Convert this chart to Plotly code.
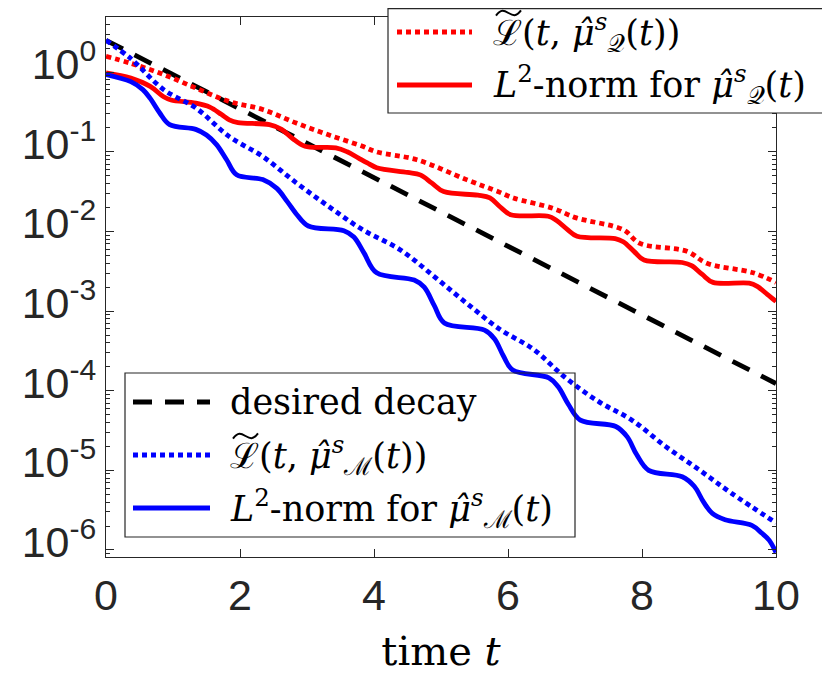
import plotly.graph_objects as go

# values
t_decay = [0, 10]
desired_decay = [2.51, 1.23e-4]

t_lq = [0, 0.37, 0.86, 1.34, 1.84, 2.34, 2.84, 3.33, 3.83, 4.03, 4.64, 5.38, 5.88, 6.08,
        6.67, 7.02, 7.72, 7.97, 8.67, 8.97, 9.66, 10]
ltilde_q = [1.58, 1.29, 0.933, 0.631, 0.427, 0.339, 0.229, 0.162, 0.117, 0.100, 0.0794,
            0.0447, 0.0309, 0.0263, 0.0195, 0.0148, 0.0105, 0.00708, 0.00562, 0.00398,
            0.00302, 0.00229]

t_nq = [0, 0.37, 0.66, 0.86, 0.97, 1.34, 1.55, 1.72, 1.84, 1.97, 2.44, 2.62, 2.78, 2.97,
        3.43, 3.6, 3.77, 3.9, 4.04, 4.5, 4.69, 4.86, 5.04, 5.55, 5.73, 5.88, 6.04, 6.6,
        6.72, 6.88, 7.03, 7.6, 7.72, 7.88, 8.03, 8.6, 8.74, 8.9, 9.06, 9.6, 9.72, 9.87, 10]
l2_q = [0.977, 0.841, 0.661, 0.490, 0.447, 0.407, 0.363, 0.295, 0.251, 0.232, 0.219, 0.191,
        0.148, 0.117, 0.112, 0.100, 0.0832, 0.0724, 0.0631, 0.0550, 0.0513, 0.0407, 0.0316,
        0.0285, 0.0263, 0.0204, 0.0162, 0.0155, 0.0138, 0.0107, 0.00871, 0.00813, 0.00741,
        0.00562, 0.00437, 0.00407, 0.00372, 0.00288, 0.00229, 0.00224, 0.00204, 0.00162,
        0.00132]

t_lm = [0, 0.37, 0.86, 1.34, 1.84, 2.34, 2.84, 3.33, 3.83, 4.39, 4.89, 5.38, 5.88, 6.38,
        6.86, 7.36, 7.85, 8.35, 8.85, 9.34, 10]
ltilde_m = [2.51, 1.48, 0.603, 0.355, 0.155, 0.0871, 0.0407, 0.0204, 0.0105, 0.00589,
            0.00275, 0.00126, 0.000589, 0.000331, 0.000145, 7.24e-5, 4.27e-5, 2.0e-5,
            1.02e-5, 5.13e-6, 2.19e-6]

t_nm = [0, 0.37, 0.55, 0.66, 0.8, 0.95, 1.34, 1.5, 1.65, 1.8, 1.95, 2.34, 2.55, 2.7, 2.85,
        3.02, 3.55, 3.7, 3.85, 4.04, 4.6, 4.75, 4.9, 5.05, 5.65, 5.8, 5.93, 6.07, 6.61, 6.75,
        6.9, 7.08, 7.61, 7.78, 7.92, 8.1, 8.6, 8.78, 8.92, 9.05, 9.24, 9.64, 9.79, 9.9, 10]
l2_m = [0.933, 0.759, 0.603, 0.468, 0.309, 0.219, 0.191, 0.162, 0.123, 0.0794, 0.0513,
        0.0447, 0.0347, 0.0240, 0.0162, 0.0117, 0.0102, 0.00851, 0.00537, 0.00302, 0.00245,
        0.00200, 0.00117, 0.000708, 0.000575, 0.000447, 0.000275, 0.000182, 0.000145,
        0.000112, 6.76e-5, 4.27e-5, 3.55e-5, 2.63e-5, 1.58e-5, 1.0e-5, 8.32e-6, 6.31e-6,
        3.98e-6, 2.88e-6, 2.40e-6, 2.04e-6, 1.62e-6, 1.32e-6, 9.3e-7]

y_exponents = [-6, -5, -4, -3, -2, -1, 0]
x_ticks = [0, 2, 4, 6, 8, 10]

MU = "<i>μ̂</i><sup><i>s</i></sup>"
lbl_decay = "desired decay"
lbl_lq = "ℒ(<i>t</i>, " + MU + "<sub>𝒬</sub>(<i>t</i>))"
lbl_nq = "<i>L</i><sup>2</sup>-norm for " + MU + "<sub>𝒬</sub>(<i>t</i>)"
lbl_lm = "ℒ(<i>t</i>, " + MU + "<sub>ℳ</sub>(<i>t</i>))"
lbl_nm = "<i>L</i><sup>2</sup>-norm for " + MU + "<sub>ℳ</sub>(<i>t</i>)"

RED, BLUE, BLACK, AX = "#ff0000", "#0000ff", "#000000", "#262626"
DOT = "5px,4px"
DASH = "19px,13px"
LW = 4.8
SERIF = "DejaVu Serif"
SANS = "Liberation Sans"

# the page body adds an 8px offset, so the figure is laid out 8px smaller
OFF = 8
W, H = 830 - OFF, 685 - OFF
ML, MR, MT, MB = 106 - OFF, 54, 17 - OFF, 128
PW, PH = W - ML - MR, H - MT - MB


def px(x):  # page pixel -> paper
    return (x - OFF - ML) / PW


def py(y):
    return (H - MB - (y - OFF)) / PH


def tilde_path(x0, yc, w=25, a=2.6):
    # small wide-tilde stroke drawn above the calligraphic L
    pts = [(x0, yc + a), (x0 + 0.2 * w, yc - 1.6 * a), (x0 + 0.32 * w, yc - a),
           (x0 + 0.5 * w, yc), (x0 + 0.68 * w, yc + a), (x0 + 0.8 * w, yc + 1.6 * a),
           (x0 + w, yc - a)]
    p = ["%.5f,%.5f" % (px(x), py(y)) for x, y in pts]
    return "M %s C %s %s %s C %s %s %s" % tuple(p)


fig = go.Figure()
series = [
    (t_decay, desired_decay, lbl_decay, BLACK, DASH, "linear"),
    (t_lq, ltilde_q, lbl_lq, RED, DOT, "spline"),
    (t_nq, l2_q, lbl_nq, RED, "solid", "spline"),
    (t_lm, ltilde_m, lbl_lm, BLUE, DOT, "spline"),
    (t_nm, l2_m, lbl_nm, BLUE, "solid", "spline"),
]
for t, v, name, col, dash, shape in series:
    fig.add_trace(go.Scatter(x=t, y=v, name=name, mode="lines", showlegend=False,
                             line=dict(color=col, width=LW, dash=dash, shape=shape)))

# hand-drawn legends (two boxes, like the original)
shapes = []
legends = [
    dict(box=(388, 825, 8.7, 113), fill="white", keyx=(397, 472), textx=491,
         rows=[(32, series[1]), (85, series[2])]),
    dict(box=(125, 575, 373, 537), fill="rgba(0,0,0,0)", keyx=(133, 210), textx=228,
         rows=[(402, series[0]), (455, series[3]), (508, series[4])]),
]
for lg in legends:
    x0, x1, y0, y1 = lg["box"]
    shapes.append(dict(type="rect", xref="paper", yref="paper", layer="above",
                       x0=px(x0), x1=px(x1), y0=py(y1), y1=py(y0),
                       fillcolor=lg["fill"], line=dict(color=AX, width=1.2)))
    for ry, (_, _, name, col, dash, _) in lg["rows"]:
        shapes.append(dict(type="line", xref="paper", yref="paper", layer="above",
                           x0=px(lg["keyx"][0]), x1=px(lg["keyx"][1]), y0=py(ry), y1=py(ry),
                           line=dict(color=col, width=LW, dash=dash)))
        if name.startswith("ℒ"):
            shapes.append(dict(type="path", xref="paper", yref="paper", layer="above",
                               path=tilde_path(lg["textx"] + 5, ry - 19),
                               line=dict(color="black", width=2)))

axis_common = dict(showline=True, linecolor=AX, linewidth=1.3, mirror="allticks",
                   ticks="inside", ticklen=8, tickcolor=AX, tickwidth=1.3, showgrid=False,
                   zeroline=False, tickfont=dict(family=SANS, size=43, color=AX))

fig.update_layout(
    width=W, height=H,
    margin=dict(l=ML, r=MR, t=MT, b=MB),
    paper_bgcolor="white", plot_bgcolor="white",
    font=dict(family=SERIF, color="black"),
    shapes=shapes,
    xaxis=dict(range=[0, 10], tickvals=x_ticks, ticktext=[str(v) for v in x_ticks],
               title=dict(text="time <i>t</i>", font=dict(family=SERIF, size=40, color="black"),
                          standoff=19),
               **axis_common),
    yaxis=dict(type="log", range=[-6.088, 0.692],
               tickvals=[10.0 ** e for e in y_exponents],
               ticktext=["10<sup>%d</sup>" % e for e in y_exponents],
               minor=dict(ticks="inside", ticklen=4, tickcolor=AX,
                          tickvals=[m * 10.0 ** e for e in range(-7, 1) for m in range(2, 10)]),
               ticklabelshift=-8,
               **axis_common),
)

for lg in legends:
    for ry, (_, _, name, _, _, _) in lg["rows"]:
        fig.add_annotation(xref="paper", yref="paper", x=px(lg["textx"]), y=py(ry),
                           xanchor="left", yanchor="middle", showarrow=False, text=name,
                           font=dict(family=SERIF, size=35, color="black"))

fig.write_html("out.html")
